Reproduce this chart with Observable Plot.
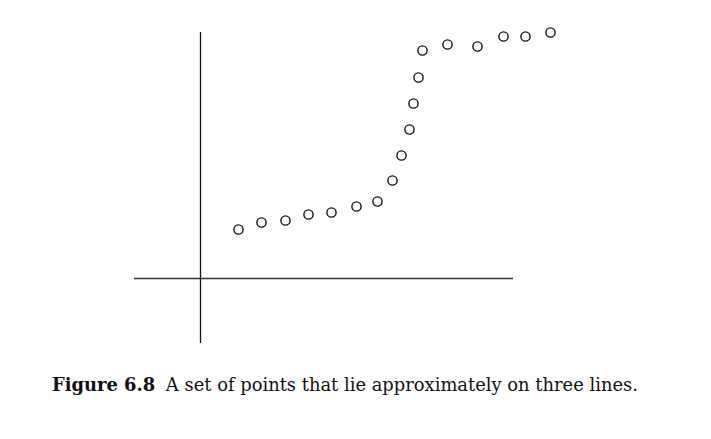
<!DOCTYPE html>
<html>
<head>
<meta charset="utf-8">
<script src="https://cdn.jsdelivr.net/npm/d3@7"></script>
<script src="https://cdn.jsdelivr.net/npm/@observablehq/plot@0.6"></script>
<style>
  html, body { margin: 0; padding: 0; background: #fff; }
  #chart svg { display: block; }
  #caption {
    font-family: "DejaVu Serif", serif;
    font-size: 17.9px;
    color: #111;
    margin: 14px 0 0 52px;
    white-space: nowrap;
  }
  #caption b { margin-right: 5px; }
</style>
</head>
<body>
<div id="chart"></div>
<div id="caption"><b>Figure 6.8</b> A set of points that lie approximately on three lines.</div>
<script>
// Point coordinates (arbitrary units)
const xs = [3.8, 6.1, 8.5, 10.8, 13.1, 15.6, 17.7, 19.2, 20.1, 20.9, 21.3, 21.8, 22.2, 24.7, 27.7, 30.3, 32.5, 35.0];
const ys = [4.9, 5.6, 5.8, 6.4, 6.6, 7.2, 7.7, 9.8, 12.3, 14.9, 17.5, 20.1, 22.8, 23.4, 23.2, 24.2, 24.2, 24.6];
// Axis line extents
const xAxisExtent = [-6.6, 31.3];
const yAxisExtent = [-6.5, 24.6];

const points = xs.map((x, i) => ({x, y: ys[i]}));

const chart = Plot.plot({
  width: 711,
  height: 360,
  marginLeft: 134,
  marginRight: 156,
  marginTop: 32,
  marginBottom: 17,
  x: {domain: [-6.6, 35.5], axis: null},
  y: {domain: [-6.5, 24.6], axis: null},
  marks: [
    Plot.ruleY([0], {x1: xAxisExtent[0], x2: xAxisExtent[1], stroke: "#333", strokeWidth: 1.3}),
    Plot.ruleX([0], {y1: yAxisExtent[0], y2: yAxisExtent[1], stroke: "#111", strokeWidth: 1.3}),
    Plot.dot(points, {x: "x", y: "y", r: 4.6, stroke: "#111", strokeWidth: 1.4, fill: "white"})
  ]
});
document.getElementById("chart").appendChild(chart);
</script>
</body>
</html>
